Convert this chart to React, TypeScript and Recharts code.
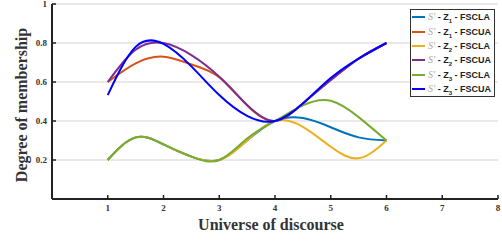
import { LineChart, Line, XAxis, YAxis, CartesianGrid, Label } from 'recharts'

const xValues = [1, 1.5, 2, 2.5, 3, 3.5, 4, 4.5, 5, 5.5, 6]
const z1Fscla = [0.2, 0.316, 0.28, 0.217, 0.2, 0.3, 0.4, 0.415, 0.368, 0.316, 0.3]
const z1Fscua = [0.6, 0.696, 0.73, 0.69, 0.625, 0.48, 0.4, 0.49, 0.61, 0.72, 0.8]
const z2Fscla = [0.2, 0.316, 0.28, 0.217, 0.2, 0.3, 0.4, 0.37, 0.268, 0.209, 0.3]
const z2Fscua = [0.6, 0.766, 0.8, 0.738, 0.627, 0.482, 0.4, 0.49, 0.61, 0.72, 0.8]
const z3Fscla = [0.2, 0.316, 0.28, 0.217, 0.2, 0.31, 0.4, 0.48, 0.504, 0.42, 0.3]
const z3Fscua = [0.533, 0.78, 0.795, 0.68, 0.533, 0.426, 0.4, 0.49, 0.62, 0.72, 0.8]

const xTicks = [1, 2, 3, 4, 5, 6, 7, 8]
const yTicks = [0.2, 0.4, 0.6, 0.8, 1]

const SERIES = [
  { key: 'z1Fscla', z: '1', kind: 'FSCLA', color: '#0072BD' },
  { key: 'z1Fscua', z: '1', kind: 'FSCUA', color: '#D95319' },
  { key: 'z2Fscla', z: '2', kind: 'FSCLA', color: '#EDB120' },
  { key: 'z2Fscua', z: '2', kind: 'FSCUA', color: '#7E2F8E' },
  { key: 'z3Fscla', z: '3', kind: 'FSCLA', color: '#77AC30' },
  { key: 'z3Fscua', z: '3', kind: 'FSCUA', color: '#0000FF' },
]

const data = xValues.map((x, i) => ({
  x,
  z1Fscla: z1Fscla[i],
  z1Fscua: z1Fscua[i],
  z2Fscla: z2Fscla[i],
  z2Fscua: z2Fscua[i],
  z3Fscla: z3Fscla[i],
  z3Fscua: z3Fscua[i],
}))

const SERIF = '"Liberation Serif", "Times New Roman", serif'
const SANS = '"Liberation Sans", Arial, sans-serif'

function XTick(props: any) {
  const { x, y, payload } = props
  return (
    <g>
      <line x1={x} y1={y} x2={x} y2={y - 4} stroke="#222" strokeWidth={1.5} />
      <text x={x} y={y + 12} textAnchor="middle" fontFamily={SERIF} fontWeight="bold" fontSize={9} fill="#333">
        {payload.value}
      </text>
    </g>
  )
}

function YTick(props: any) {
  const { x, y, payload } = props
  return (
    <g>
      <line x1={x} y1={y} x2={x + 4} y2={y} stroke="#222" strokeWidth={1.5} />
      <text x={x - 5} y={y + 3} textAnchor="end" fontFamily={SERIF} fontWeight="bold" fontSize={9} fill="#333">
        {payload.value}
      </text>
    </g>
  )
}

// legend drawn as an overlay so it does not shrink the plot area
function LegendBox() {
  return (
    <div
      style={{
        position: 'absolute',
        left: 410,
        top: 9,
        width: 85,
        height: 88,
        border: '1px solid #333',
        background: '#fff',
        boxSizing: 'border-box',
      }}
    >
      {SERIES.map(s => (
        <div key={s.key} style={{ display: 'flex', alignItems: 'center', height: 14.4 }}>
          <div style={{ width: 13, height: 2, background: s.color, marginLeft: 1, marginRight: 3 }} />
          <span style={{ fontFamily: SANS, fontWeight: 'bold', fontSize: 9, color: '#222', whiteSpace: 'nowrap', lineHeight: '10px' }}>
            <span style={{ color: '#aaa', fontStyle: 'italic', fontWeight: 'normal', fontFamily: SERIF, fontSize: 10 }}>S'</span>
            {' - Z'}
            <sub style={{ fontSize: 6, lineHeight: 0 }}>{s.z}</sub>
            {' -  ' + s.kind}
          </span>
        </div>
      ))}
    </div>
  )
}

export default function App() {
  return (
    <div style={{ position: 'absolute', left: 0, top: 0, width: 502, height: 242, background: '#fff' }}>
      <LineChart width={502} height={242} data={data} margin={{ top: 4, right: 4, left: 0, bottom: 0 }}>
        <CartesianGrid vertical={false} stroke="#e2e2e2" strokeWidth={1.5} />
        <XAxis
          dataKey="x"
          type="number"
          domain={[0, 8]}
          ticks={xTicks}
          interval={0}
          height={43}
          tickSize={0}
          tickMargin={0}
          tick={<XTick />}
          stroke="#222"
          strokeWidth={2}
        >
          <Label
            content={() => (
              <text x={271} y={230} textAnchor="middle" fontFamily={SERIF} fontWeight="bold" fontSize={16} fill="#333">
                Universe of discourse
              </text>
            )}
          />
        </XAxis>
        <YAxis
          type="number"
          domain={[0, 1]}
          ticks={yTicks}
          interval={0}
          width={52}
          tickSize={0}
          tickMargin={0}
          tick={<YTick />}
          stroke="#222"
          strokeWidth={2}
        >
          <Label
            content={() => (
              <text
                x={27}
                y={105}
                transform="rotate(-90, 27, 105)"
                textAnchor="middle"
                fontFamily={SERIF}
                fontWeight="bold"
                fontSize={16}
                fill="#333"
              >
                Degree of membership
              </text>
            )}
          />
        </YAxis>
        {SERIES.map(s => (
          <Line
            key={s.key}
            type="natural"
            dataKey={s.key}
            stroke={s.color}
            strokeWidth={2}
            dot={false}
            isAnimationActive={false}
          />
        ))}
      </LineChart>
      <LegendBox />
    </div>
  )
}
